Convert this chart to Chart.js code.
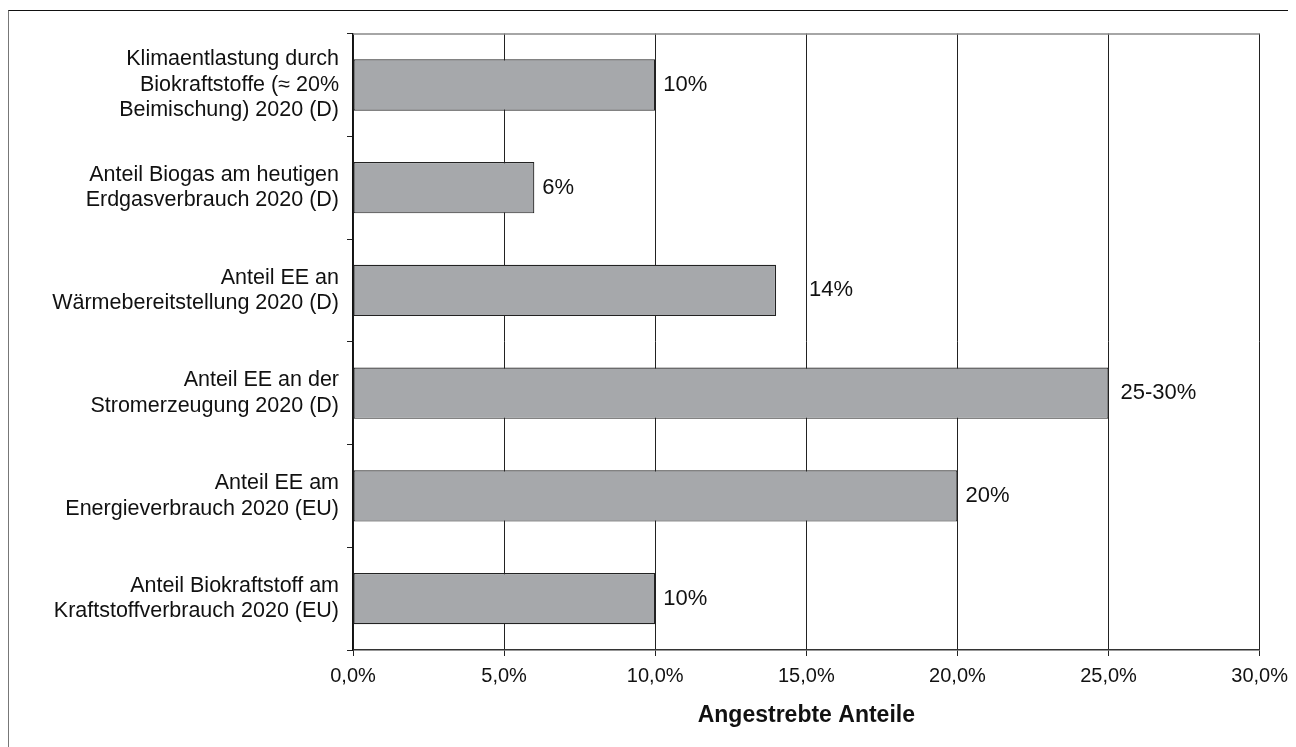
<!DOCTYPE html>
<html>
<head>
<meta charset="utf-8">
<script src="https://cdn.jsdelivr.net/npm/chart.js@4"></script>
<style>
  html, body { margin: 0; padding: 0; background: #fff; }
  #wrap { position: relative; width: 1296px; height: 747px; overflow: hidden; }
  #frame {
    position: absolute; left: 8px; top: 10px; width: 1279px; height: 740px;
    border-top: 1px solid #111; border-left: 1px solid #777;
  }
  #anteileChart { position: absolute; left: 0; top: 0; }
</style>
</head>
<body>
<div id="wrap">
  <div id="frame"></div>
  <canvas id="anteileChart" width="1296" height="747"></canvas>
</div>
<script>
// categories (top to bottom), each label split into lines
const categories = [
  ['Klimaentlastung durch', 'Biokraftstoffe (≈ 20%', 'Beimischung) 2020 (D)'],
  ['Anteil Biogas am heutigen', 'Erdgasverbrauch 2020 (D)'],
  ['Anteil EE an', 'Wärmebereitstellung 2020 (D)'],
  ['Anteil EE an der', 'Stromerzeugung 2020 (D)'],
  ['Anteil EE am', 'Energieverbrauch 2020 (EU)'],
  ['Anteil Biokraftstoff am', 'Kraftstoffverbrauch 2020 (EU)']
];
const targetShares = [10, 6, 14, 25, 20, 10];   // percent
const valueLabels = ['10%', '6%', '14%', '25-30%', '20%', '10%'];
const xTicks = [0, 5, 10, 15, 20, 25, 30];
const axisTitle = 'Angestrebte Anteile';

const FONT = "'Liberation Sans', Arial, Helvetica, sans-serif";

// writes the value text next to each bar end
const barValueLabels = {
  id: 'barValueLabels',
  afterDatasetsDraw(chart, args, opts) {
    const ctx = chart.ctx;
    const meta = chart.getDatasetMeta(0);
    ctx.save();
    ctx.font = '22px ' + FONT;
    ctx.fillStyle = '#111';
    ctx.textAlign = 'left';
    ctx.textBaseline = 'middle';
    meta.data.forEach((bar, i) => {
      const gap = opts.gaps[i] ?? 8;
      ctx.fillText(valueLabels[i], bar.x + gap, bar.y);
    });
    ctx.restore();
  }
};

// grey top edge of the plot box
const plotFrame = {
  id: 'plotFrame',
  beforeDatasetsDraw(chart) {
    const { ctx, chartArea } = chart;
    ctx.save();
    ctx.strokeStyle = '#888';
    ctx.lineWidth = 1.5;
    ctx.beginPath();
    ctx.moveTo(chartArea.left, chartArea.top + 0.5);
    ctx.lineTo(chartArea.right, chartArea.top + 0.5);
    ctx.stroke();
    ctx.restore();
  }
};

new Chart(document.getElementById('anteileChart').getContext('2d'), {
  type: 'bar',
  data: {
    labels: categories,
    datasets: [{
      data: targetShares,
      backgroundColor: '#a6a8ab',
      borderColor: '#222',
      borderWidth: 1.2,
      borderSkipped: false,
      barPercentage: 0.5,
      categoryPercentage: 1.0
    }]
  },
  options: {
    indexAxis: 'y',
    responsive: false,
    animation: false,
    events: [],
    layout: { padding: { top: 28, right: 36, left: 0, bottom: 0 } },
    plugins: {
      legend: { display: false },
      tooltip: { enabled: false },
      barValueLabels: { gaps: [8, 8, 33, 12, 8, 8] }
    },
    scales: {
      x: {
        min: 0,
        max: 30,
        afterBuildTicks: (scale) => { scale.ticks = xTicks.map(v => ({ value: v })); },
        afterFit: (scale) => { scale.height = 97; },
        grid: { color: '#222', lineWidth: 1, tickLength: 6, drawTicks: true },
        border: { color: '#333', width: 1.5 },
        ticks: {
          color: '#111',
          padding: 8,
          maxRotation: 0,
          font: { family: FONT, size: 20 },
          callback: (v) => v.toFixed(1).replace('.', ',') + '%'
        },
        title: {
          display: true,
          text: axisTitle,
          color: '#111',
          font: { family: FONT, size: 23, weight: 'bold' },
          padding: { top: 0, bottom: 18 }
        }
      },
      y: {
        afterFit: (scale) => { scale.width = 353; },
        grid: { drawOnChartArea: false, drawTicks: true, tickLength: 6, color: '#222', offset: true },
        border: { color: '#111', width: 1.5 },
        ticks: {
          color: '#111',
          padding: 8,
          font: { family: FONT, size: 21.5, lineHeight: 1.19 }
        }
      }
    }
  },
  plugins: [plotFrame, barValueLabels]
});
</script>
</body>
</html>
